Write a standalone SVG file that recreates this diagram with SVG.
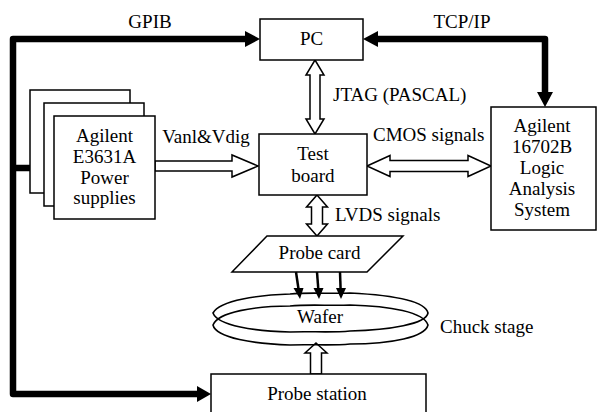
<svg xmlns="http://www.w3.org/2000/svg" width="597" height="412" viewBox="0 0 597 412">
<style>
text{font-family:"Liberation Serif","Times New Roman",serif;font-size:19px;fill:#000}
.c{text-anchor:middle}
.box{fill:#fff;stroke:#000;stroke-width:1.5}
.thick{fill:none;stroke:#000;stroke-width:6.5;stroke-linejoin:round}
.head{fill:#000;stroke:none}
.hollow{fill:#fff;stroke:#000;stroke-width:1.5;stroke-linejoin:miter}
.thin{fill:none;stroke:#000;stroke-width:2.5}
.wf{fill:none;stroke:#000;stroke-width:1.6}
</style>
<rect width="597" height="412" fill="#fff"/>
<g id="connectors">
  <path class="thick" d="M246,39 H13 V394 H198"/>
  <polygon class="head" points="245,31 260,39 245,47"/>
  <polygon class="head" points="197,386 211,394 197,402"/>
  <path class="thick" d="M13,168 H40"/>
  <polygon class="head" points="38,160 54,168 38,176"/>
  <path class="thick" d="M377,39 H545 V93"/>
  <polygon class="head" points="378,31 363,39 378,47"/>
  <polygon class="head" points="537,92 545,107 553,92"/>
  <polygon class="hollow" points="155,161 232,161 232,155 258,166 232,177 232,171 155,171"/>
  <polygon class="hollow" points="315,60 324,75 320,75 320,119 324,119 315,134 306,119 310,119 310,75 306,75"/>
  <polygon class="hollow" points="367,166 390,155.5 390,160.5 468,160.5 468,155.5 491,166 468,176.5 468,171.5 390,171.5 390,176.5"/>
  <polygon class="hollow" points="317,195 327.5,207 322.5,207 322.5,224 327.5,224 317,236 306.5,224 311.5,224 311.5,207 306.5,207"/>
  <polygon class="hollow" points="316,343 327,353 321.5,353 321.5,374 310.5,374 310.5,353 305,353"/>
</g>
<g id="pc">
  <rect class="box" x="260" y="19" width="103" height="41"/>
  <text class="c" x="311.5" y="45">PC</text>
</g>
<g id="power">
  <rect class="box" x="30" y="90" width="100" height="103"/>
  <rect class="box" x="44" y="103" width="100" height="103"/>
  <rect class="box" x="54" y="116" width="101" height="103"/>
  <text class="c" x="104.5" y="142">Agilent</text>
  <text class="c" x="104.5" y="163">E3631A</text>
  <text class="c" x="104.5" y="184">Power</text>
  <text class="c" x="104.5" y="204">supplies</text>
</g>
<g id="testboard">
  <rect class="box" x="259" y="134" width="108" height="61"/>
  <text class="c" x="313" y="160">Test</text>
  <text class="c" x="313" y="182">board</text>
</g>
<g id="logic">
  <rect class="box" x="491" y="107" width="105" height="123"/>
  <text class="c" x="542" y="132">Agilent</text>
  <text class="c" x="542" y="153">16702B</text>
  <text class="c" x="542" y="174">Logic</text>
  <text class="c" x="542" y="195">Analysis</text>
  <text class="c" x="542" y="216">System</text>
</g>
<g id="probecard">
  <polygon class="box" points="267,236 403,236 367,272 232,272"/>
  <text class="c" x="319.5" y="259">Probe card</text>
</g>
<g id="wafer">
  <path class="wf" d="M213,313 C220,300 260,295 290,294 C310,292 330,294 350,293 C390,295 425,300 428,313 C426,324 390,330 350,331 C330,333 310,331 290,332 C255,331 218,326 213,313 Z"/>
  <path class="wf" d="M213,325 C218,312 255,306 290,306 C310,304 330,306 350,305 C390,306 424,312 428,325 C425,337 392,344 350,344 C330,346 310,344 290,345 C255,344 216,338 213,325 Z"/>
  <text class="c" x="320" y="323">Wafer</text>
  <text x="440" y="333">Chuck stage</text>
</g>
<g id="probes">
  <line class="thin" x1="296" y1="272" x2="298.5" y2="289"/>
  <polygon class="head" points="293.5,288 303.5,288 300,299"/>
  <line class="thin" x1="317" y1="272" x2="318.3" y2="289"/>
  <polygon class="head" points="313.5,288 323.5,288 319,299"/>
  <line class="thin" x1="340" y1="272" x2="340.6" y2="289"/>
  <polygon class="head" points="336,288 346,288 341,299"/>
</g>
<g id="probestation">
  <rect class="box" x="211" y="374" width="215" height="42"/>
  <text class="c" x="317" y="400">Probe station</text>
</g>
<g id="labels">
  <text class="c" x="150" y="28">GPIB</text>
  <text class="c" x="462" y="28">TCP/IP</text>
  <text class="c" x="206" y="143">Vanl&amp;Vdig</text>
  <text x="333" y="101">JTAG (PASCAL)</text>
  <text x="373" y="141">CMOS signals</text>
  <text x="335" y="221">LVDS signals</text>
</g>
</svg>
